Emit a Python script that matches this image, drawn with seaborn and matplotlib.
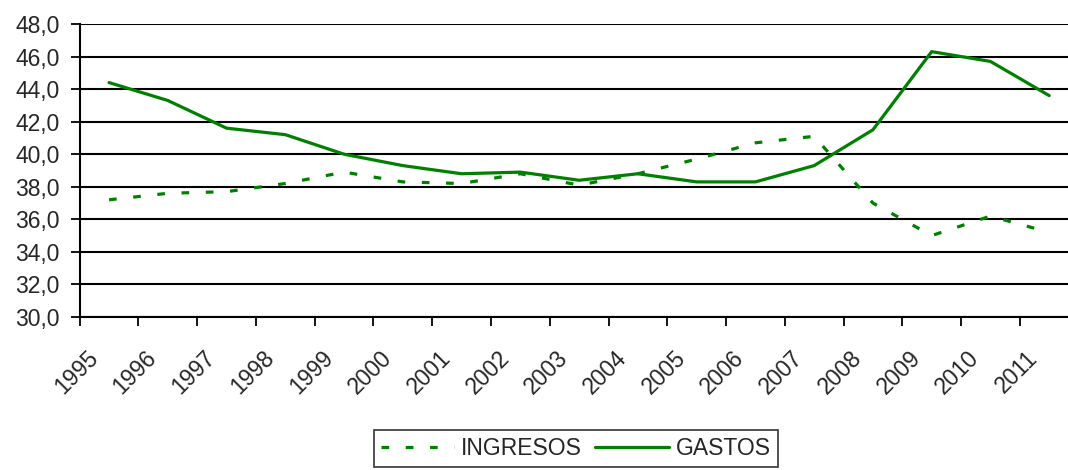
import numpy as np
import pandas as pd
import matplotlib.pyplot as plt
from matplotlib.ticker import FuncFormatter, FixedLocator
import seaborn as sns

# data
years = [str(y) for y in range(1995, 2012)]
ingresos = [37.2, 37.6, 37.7, 38.2, 38.9, 38.3, 38.2, 38.8, 38.1, 38.8,
            39.7, 40.7, 41.1, 37.0, 35.0, 36.2, 35.2]
gastos = [44.4, 43.3, 41.6, 41.2, 40.0, 39.3, 38.8, 38.9, 38.4, 38.8,
          38.3, 38.3, 39.3, 41.5, 46.3, 45.7, 43.6]

df = pd.DataFrame({'pos': np.arange(len(years)), 'year': years,
                   'INGRESOS': ingresos, 'GASTOS': gastos})

sns.set_style('white')
plt.rcParams['font.family'] = ['Liberation Sans', 'DejaVu Sans']

fig = plt.figure(figsize=(10.68, 4.70), dpi=100)
ax = fig.add_axes([0.0746, 0.3255, 0.9254, 0.6235])

green = '#008000'
sns.lineplot(data=df, x='pos', y='INGRESOS', ax=ax, color=green, linewidth=2.3,
             linestyle=(0, (2.4, 5.2)), label='INGRESOS')
sns.lineplot(data=df, x='pos', y='GASTOS', ax=ax, color=green, linewidth=2.3,
             label='GASTOS')

# y axis
ax.set_ylim(30, 48)
ax.set_yticks(np.arange(30, 48.1, 2))
ax.yaxis.set_major_formatter(FuncFormatter(lambda v, p: f'{v:.1f}'.replace('.', ',')))
ax.grid(axis='y', color='black', linewidth=1.5)
ax.set_axisbelow(True)

# x axis: tick marks between categories, labels shifted like the original
n = len(years)
ax.set_xlim(-0.5, 16.32)
ax.xaxis.set_minor_locator(FixedLocator(np.arange(n + 1) - 0.5))
ax.set_xticks(df['pos'] - 0.25)
ax.set_xticklabels(years, rotation=45, ha='right', va='center',
                   rotation_mode='anchor')
ax.tick_params(axis='x', which='major', length=0, pad=27, labelsize=16.5)
ax.tick_params(axis='x', which='minor', length=6.5, width=1.3, color='black',
               direction='out', bottom=True)
ax.tick_params(axis='y', length=6.5, width=1.3, color='black', direction='out',
               left=True, labelsize=16.5, pad=8)
ax.set_xlabel('')
ax.set_ylabel('')

sns.despine(ax=ax, top=True, right=True)
for s in ['left', 'bottom']:
    ax.spines[s].set_color('black')
    ax.spines[s].set_linewidth(1.5)

ax.get_legend().remove()
handles, labels = ax.get_legend_handles_labels()
leg = fig.legend(handles, labels, loc='center', bbox_to_anchor=(0.539, 0.045),
                 ncol=2, fontsize=16.5, frameon=True, fancybox=False,
                 edgecolor='black', handlelength=3.2, handletextpad=0.3,
                 columnspacing=0.6, borderpad=0.3, borderaxespad=0)
leg.get_frame().set_linewidth(1.2)

fig.savefig('out.png', dpi=100)
